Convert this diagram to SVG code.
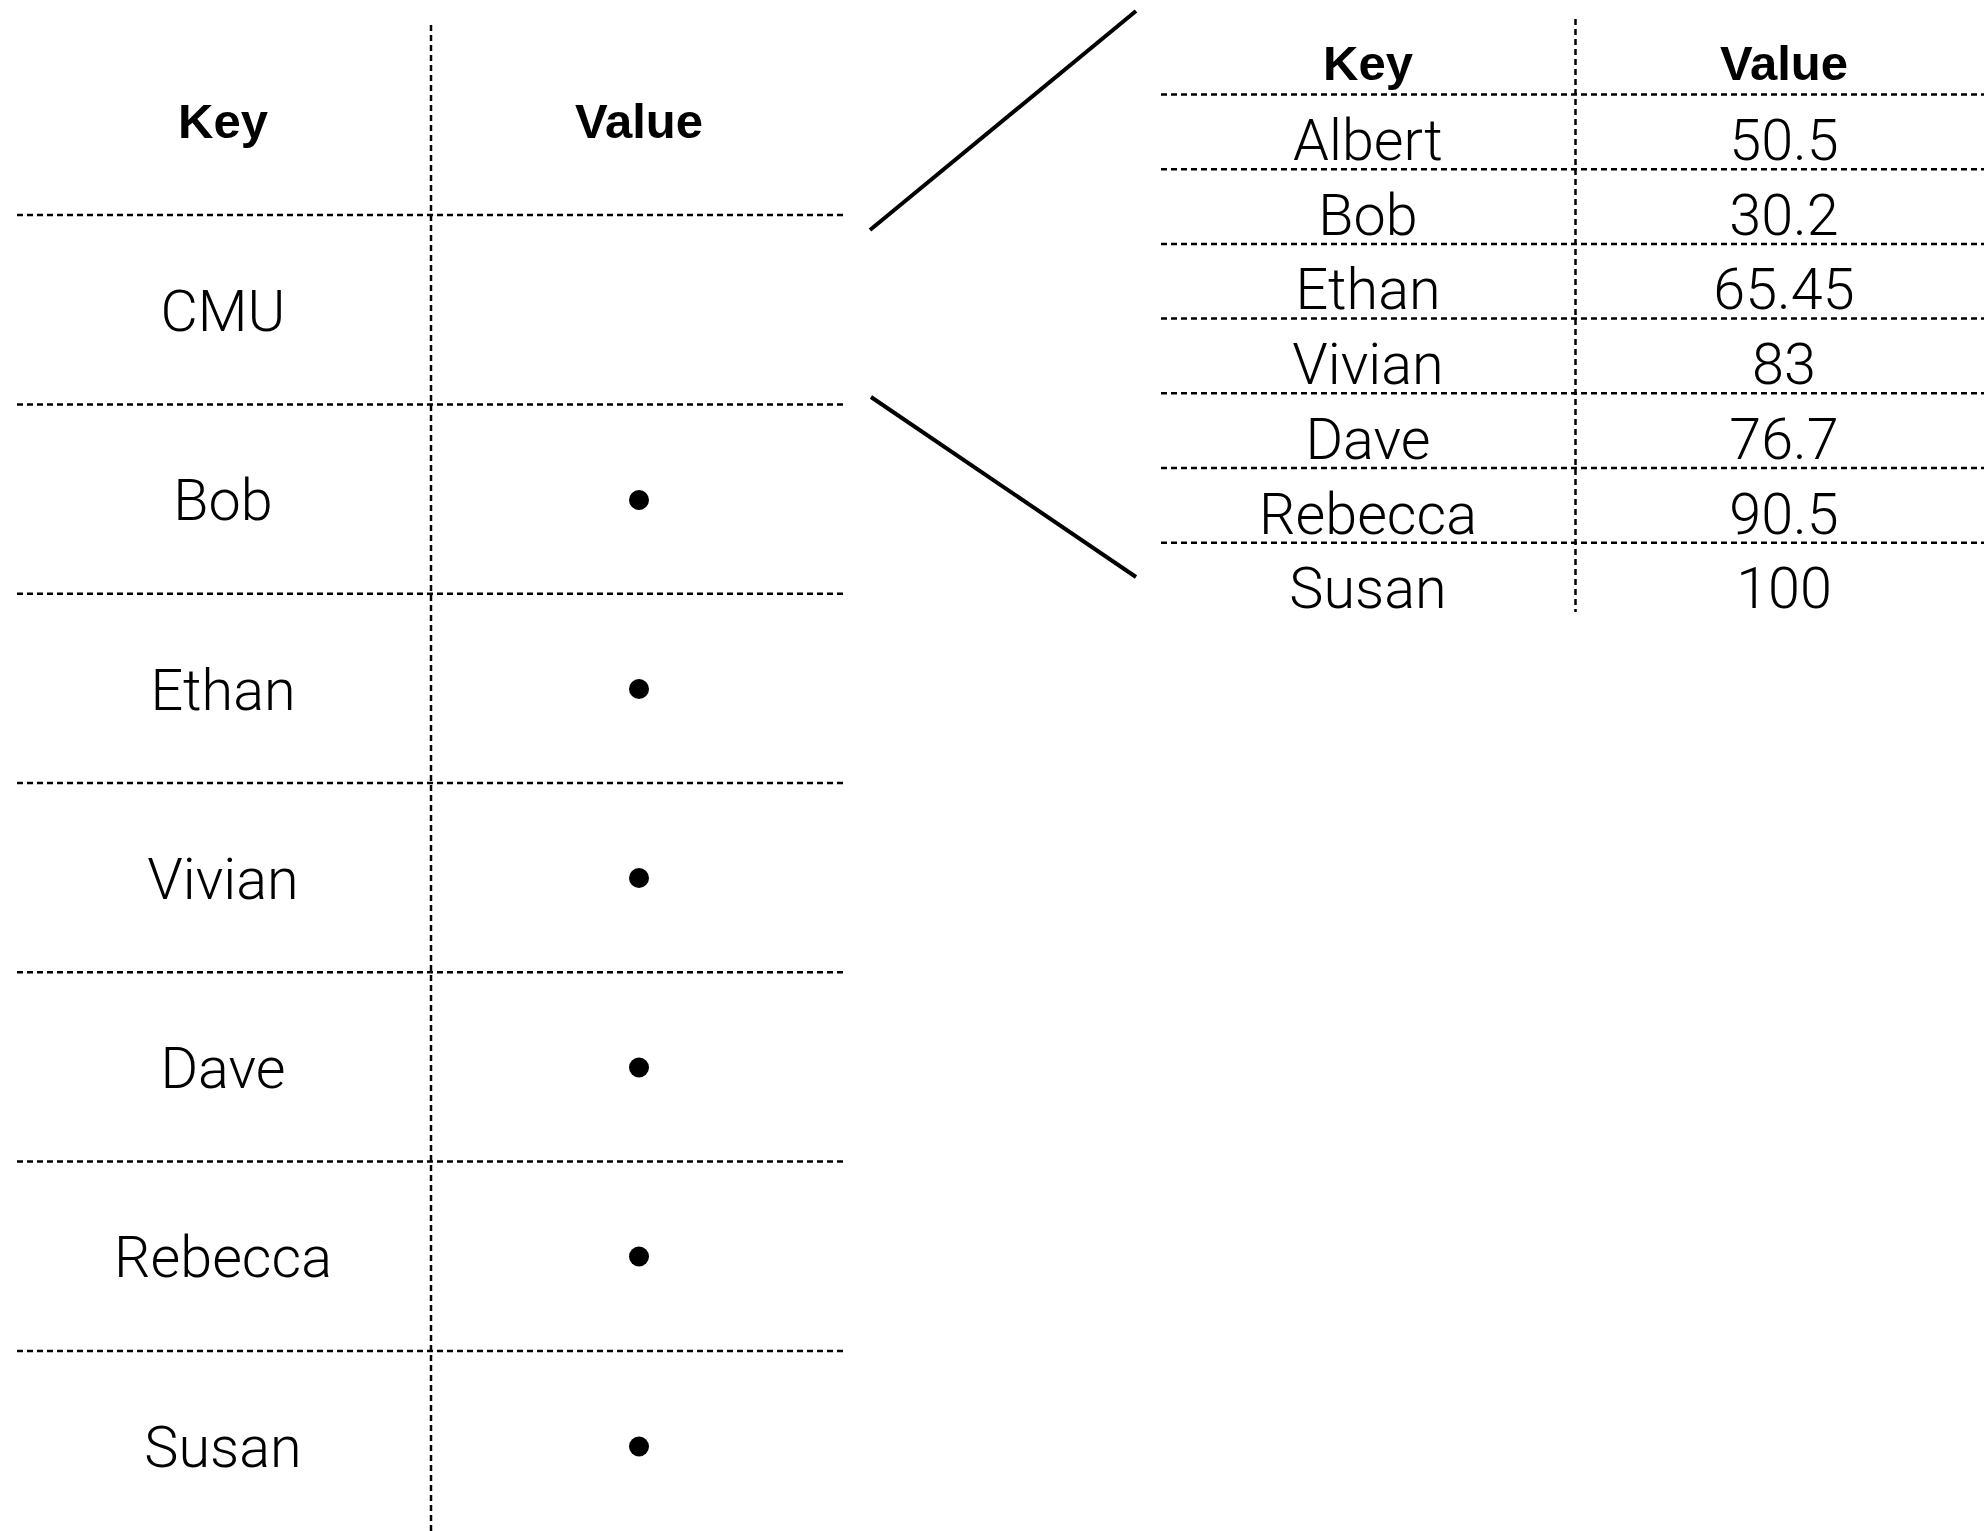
<svg xmlns="http://www.w3.org/2000/svg" width="1984" height="1531" viewBox="0 0 1984 1531">
<style>
.bg{fill:#fff}
.dash{stroke:#000;stroke-width:2.5;stroke-dasharray:6 4;fill:none}
.link{stroke:#000;stroke-width:4;fill:none}
.hdr{font-family:"Liberation Sans",Arial,sans-serif;font-weight:bold;font-size:49px;text-anchor:middle;fill:#000}
.cell{font-family:Roboto,"Liberation Sans",sans-serif;font-weight:300;font-size:57.5px;text-anchor:middle;fill:#000}
.dot{fill:#000}
</style>
<rect class="bg" x="0" y="0" width="1984" height="1531"/>
<g id="left-table">
  <g id="left-grid">
    <line class="dash" x1="431" y1="25" x2="431" y2="1531"/>
    <line class="dash" x1="17" y1="215" x2="844" y2="215"/>
    <line class="dash" x1="17" y1="404.4" x2="844" y2="404.4"/>
    <line class="dash" x1="17" y1="593.7" x2="844" y2="593.7"/>
    <line class="dash" x1="17" y1="783" x2="844" y2="783"/>
    <line class="dash" x1="17" y1="972.3" x2="844" y2="972.3"/>
    <line class="dash" x1="17" y1="1161.6" x2="844" y2="1161.6"/>
    <line class="dash" x1="17" y1="1351" x2="844" y2="1351"/>
  </g>
  <g id="left-header">
    <text class="hdr" x="223" y="138">Key</text>
    <text class="hdr" x="639" y="138">Value</text>
  </g>
  <g id="left-row-cmu"><text class="cell" x="223" y="331">CMU</text></g>
  <g id="left-row-bob"><text class="cell" x="223" y="520">Bob</text><circle class="dot" cx="639" cy="500" r="10"/></g>
  <g id="left-row-ethan"><text class="cell" x="223" y="709.5">Ethan</text><circle class="dot" cx="639" cy="689" r="10"/></g>
  <g id="left-row-vivian"><text class="cell" x="223" y="898.8">Vivian</text><circle class="dot" cx="639" cy="878" r="10"/></g>
  <g id="left-row-dave"><text class="cell" x="223" y="1088">Dave</text><circle class="dot" cx="639" cy="1067.5" r="10"/></g>
  <g id="left-row-rebecca"><text class="cell" x="223" y="1277.4">Rebecca</text><circle class="dot" cx="639" cy="1256.5" r="10"/></g>
  <g id="left-row-susan"><text class="cell" x="223" y="1467">Susan</text><circle class="dot" cx="639" cy="1446.5" r="10"/></g>
</g>
<g id="connectors">
  <line class="link" x1="870" y1="230" x2="1136" y2="11"/>
  <line class="link" x1="871" y1="397" x2="1136" y2="577"/>
</g>
<g id="right-table">
  <g id="right-grid">
    <line class="dash" x1="1575.5" y1="19" x2="1575.5" y2="612"/>
    <line class="dash" x1="1161" y1="94.5" x2="1984" y2="94.5"/>
    <line class="dash" x1="1161" y1="169.2" x2="1984" y2="169.2"/>
    <line class="dash" x1="1161" y1="243.9" x2="1984" y2="243.9"/>
    <line class="dash" x1="1161" y1="318.6" x2="1984" y2="318.6"/>
    <line class="dash" x1="1161" y1="393.3" x2="1984" y2="393.3"/>
    <line class="dash" x1="1161" y1="468" x2="1984" y2="468"/>
    <line class="dash" x1="1161" y1="542.7" x2="1984" y2="542.7"/>
  </g>
  <g id="right-header">
    <text class="hdr" x="1368" y="80">Key</text>
    <text class="hdr" x="1784" y="80">Value</text>
  </g>
  <g id="right-row-albert"><text class="cell" x="1368" y="160">Albert</text><text class="cell" x="1784" y="160">50.5</text></g>
  <g id="right-row-bob"><text class="cell" x="1368" y="234.7">Bob</text><text class="cell" x="1784" y="234.7">30.2</text></g>
  <g id="right-row-ethan"><text class="cell" x="1368" y="309.4">Ethan</text><text class="cell" x="1784" y="309.4">65.45</text></g>
  <g id="right-row-vivian"><text class="cell" x="1368" y="384">Vivian</text><text class="cell" x="1784" y="384">83</text></g>
  <g id="right-row-dave"><text class="cell" x="1368" y="458.8">Dave</text><text class="cell" x="1784" y="458.8">76.7</text></g>
  <g id="right-row-rebecca"><text class="cell" x="1368" y="533.5">Rebecca</text><text class="cell" x="1784" y="533.5">90.5</text></g>
  <g id="right-row-susan"><text class="cell" x="1368" y="608">Susan</text><text class="cell" x="1784" y="608">100</text></g>
</g>
</svg>
